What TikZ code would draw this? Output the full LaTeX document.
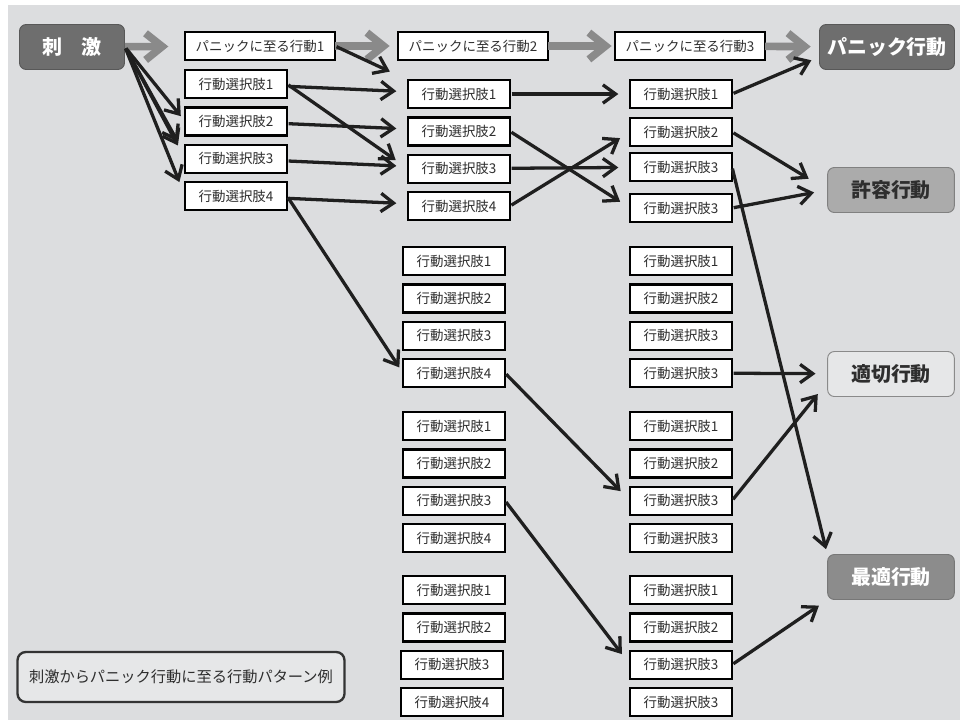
\documentclass[tikz,border=0pt]{standalone}
\usepackage{fontspec}
\setmainfont{Noto Sans CJK JP}
\usetikzlibrary{arrows.meta,positioning}
\definecolor{bggray}{HTML}{DCDDDF}
\definecolor{darkbox}{HTML}{6E6E6E}
\definecolor{midbox}{HTML}{ABABAB}
\definecolor{optbox}{HTML}{8C8C8C}
\definecolor{lightbox}{HTML}{E6E7E8}
\definecolor{arrowgray}{HTML}{8A8A8A}
\definecolor{txtgray}{HTML}{2E2E2E}

\begin{document}
\begin{tikzpicture}[x=0.03cm,y=-0.03cm,node distance=0.28cm,
    choice/.style={draw=black,line width=2pt,fill=white,minimum width=3.06cm,minimum height=0.84cm,inner sep=0pt,outer sep=0pt,text=txtgray,font=\fontsize{11.5}{12}\selectfont},
    panicstep/.style={choice,minimum width=4.5cm},
    goal/.style={rounded corners=0.2cm,line width=0.8pt,minimum width=3.8cm,minimum height=1.35cm,inner sep=0pt,font=\fontsize{17}{18}\selectfont\bfseries},
    blk/.style={-{Straight Barb[length=0.38cm,width=0.55cm]},line width=2.8pt,color=black!88,shorten >=0.35cm,shorten <=0.05cm},
    gry/.style={-{Straight Barb[length=0.5cm,width=0.8cm]},line width=6.5pt,color=arrowgray}]

    \useasboundingbox (0,0) rectangle (960,720);
    \fill[bggray] (8,5) rectangle (960,720);

    % stimulus and panic chain
    \node[goal,draw=darkbox!80!black,fill=darkbox,text=white,minimum width=3.15cm] (stim) at (72,47) {刺\quad 激};
    \node[panicstep] (p_1) at (260,46) {パニックに至る行動1};
    \node[panicstep] (p_2) at (473,46) {パニックに至る行動2};
    \node[panicstep] (p_3) at (690,46) {パニックに至る行動3};
    \node[goal,draw=darkbox!80!black,fill=darkbox,text=white,minimum width=4.05cm] (pan) at (887,47) {パニック行動};

    % first choices
    \node[choice] (1_1) at (236,84) {行動選択肢1};
    \node[choice] (1_2) [below=of 1_1] {行動選択肢2};
    \node[choice] (1_3) [below=of 1_2] {行動選択肢3};
    \node[choice] (1_4) [below=of 1_3] {行動選択肢4};

    % second choices
    \node[choice] (2_1) at (459,94) {行動選択肢1};
    \node[choice] (2_2) [below=of 2_1] {行動選択肢2};
    \node[choice] (2_3) [below=of 2_2] {行動選択肢3};
    \node[choice] (2_4) [below=of 2_3] {行動選択肢4};
    \node[choice] (2_5) at (454,261) {行動選択肢1};
    \node[choice] (2_6) [below=of 2_5] {行動選択肢2};
    \node[choice] (2_7) [below=of 2_6] {行動選択肢3};
    \node[choice] (2_8) [below=of 2_7] {行動選択肢4};
    \node[choice] (2_9) [below=0.75cm of 2_8] {行動選択肢1};
    \node[choice] (2_10) [below=of 2_9] {行動選択肢2};
    \node[choice] (2_11) [below=of 2_10] {行動選択肢3};
    \node[choice] (2_12) [below=of 2_11] {行動選択肢4};
    \node[choice] (2_13) [below=0.72cm of 2_12] {行動選択肢1};
    \node[choice] (2_14) [below=of 2_13] {行動選択肢2};
    \node[choice] (2_15) [below=of 2_14,xshift=-0.06cm] {行動選択肢3};
    \node[choice] (2_16) [below=of 2_15] {行動選択肢4};

    % third choices
    \node[choice] (3_1) at (681,94) {行動選択肢1};
    \node[choice] (3_2) [below=0.3cm of 3_1] {行動選択肢2};
    \node[choice] (3_3) [below=0.21cm of 3_2] {行動選択肢3};
    \node[choice] (3_4) [below=0.39cm of 3_3] {行動選択肢3};
    \node[choice] (3_5) at (681,261) {行動選択肢1};
    \node[choice] (3_6) [below=of 3_5] {行動選択肢2};
    \node[choice] (3_7) [below=of 3_6] {行動選択肢3};
    \node[choice] (3_8) [below=of 3_7] {行動選択肢3};
    \node[choice] (3_9) [below=0.75cm of 3_8] {行動選択肢1};
    \node[choice] (3_10) [below=of 3_9] {行動選択肢2};
    \node[choice] (3_11) [below=of 3_10] {行動選択肢3};
    \node[choice] (3_12) [below=of 3_11] {行動選択肢3};
    \node[choice] (3_13) [below=0.72cm of 3_12] {行動選択肢1};
    \node[choice] (3_14) [below=of 3_13] {行動選択肢2};
    \node[choice] (3_15) [below=of 3_14] {行動選択肢3};
    \node[choice] (3_16) [below=of 3_15] {行動選択肢3};

    % outcomes
    \node[goal,draw=midbox!75!black,fill=midbox,text=txtgray] (kyo) at (891,190) {許容行動};
    \node[goal,draw=arrowgray,fill=lightbox,text=txtgray] (tek) at (891,374) {適切行動};
    \node[goal,draw=optbox!85!black,fill=optbox,text=white] (sai) at (891,577) {最適行動};

    \node[draw=black!80,line width=2pt,rounded corners=0.25cm,fill=lightbox,minimum width=9.81cm,minimum height=1.5cm,text=txtgray,font=\fontsize{13}{14}\selectfont] (legend) at (181,677) {刺激からパニック行動に至る行動パターン例};

    \path[gry]
    (stim) edge[shorten >=0.5cm] (p_1)
    (p_1) edge[shorten >=0.25cm] (p_2)
    (p_2) edge[shorten >=0.1cm] (p_3)
    (p_3) edge[shorten >=0.25cm] (pan);

    \path[blk]
    (stim.east) edge[shorten >=0.2cm] (1_2.west)
    (stim.east) edge[shorten >=0.45cm] ([yshift=0.12cm]1_3.west)
    (stim.east) edge[shorten >=0.45cm] (1_3.west)
    (stim.east) edge[shorten >=0.45cm] (1_4.west)
    (p_1.east) edge[shorten >=0.6cm] (2_1.north west)
    (1_1) edge (2_1)
    (1_1.east) edge[shorten >=0.45cm] (2_3.west)
    (1_2) edge (2_2)
    (1_3) edge (2_3)
    (1_4) edge (2_4)
    (1_4.east) edge[shorten >=0.2cm] (2_8.west)
    (2_1) edge (3_1)
    (2_2.east) edge (3_4.west)
    (2_3) edge (3_3)
    (2_4.east) edge (3_2.west)
    (3_1.east) edge[shorten >=0.25cm] ([yshift=-0.3cm]pan.west)
    (3_2.east) edge[shorten >=0.65cm] (kyo.west)
    (3_4.east) edge[shorten >=0.4cm] (kyo.west)
    (3_3.east) edge[shorten >=0.15cm] (sai.north west)
    (2_8.east) edge[shorten >=0.4cm] (3_11.west)
    (3_8) edge (tek)
    (3_11.east) edge[shorten >=0.45cm] ([yshift=-0.25cm]tek.west)
    (2_11.east) edge[shorten >=0.4cm] (3_15.west)
    (3_15.east) edge[shorten >=0.3cm] (sai.south west);

\end{tikzpicture}
\end{document}
